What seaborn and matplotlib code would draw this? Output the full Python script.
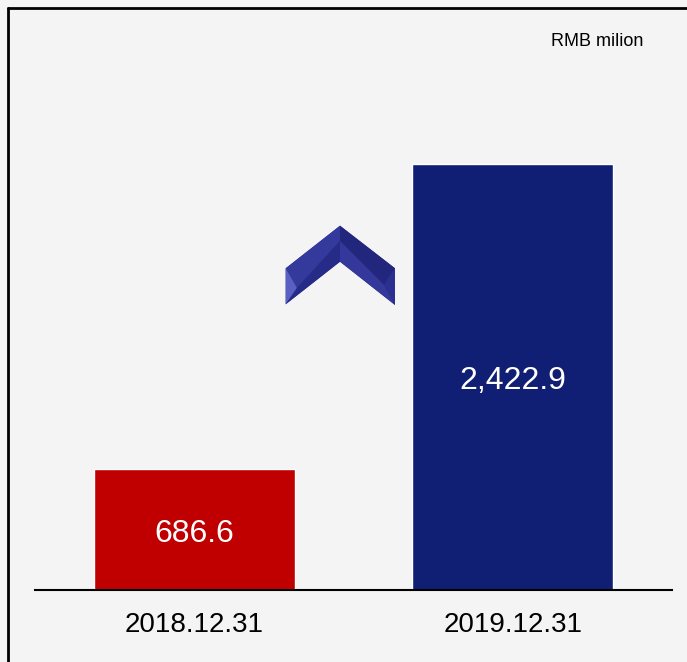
import matplotlib
matplotlib.use("Agg")
import matplotlib.pyplot as plt
from matplotlib.patches import Polygon
from matplotlib.lines import Line2D
import seaborn as sns
import pandas as pd

categories = ["2018.12.31", "2019.12.31"]
values = [686.6, 2422.9]
bar_colors = ["#c00000", "#101f74"]
unit_label = "RMB milion"

sns.set_theme(style="white")
plt.rcParams["font.family"] = ["Liberation Sans", "DejaVu Sans"]

W, H = 687, 662
bg = "#f4f4f4"
fig = plt.figure(figsize=(W / 100, H / 100), dpi=100, facecolor=bg)

def fx(x):
    return x / W

def fy(y):
    return 1 - y / H

# axes: x 35..672 px, baseline y=590, top y=130
ax = fig.add_axes([fx(35), fy(590), (672 - 35) / W, (590 - 130) / H])
ax.set_facecolor(bg)

df = pd.DataFrame({"cat": categories, "val": values})
sns.barplot(data=df, x="cat", y="val", hue="cat", palette=bar_colors,
            saturation=1, width=0.63, legend=False, ax=ax)

ax.set_xlim(-0.5, 1.5)
ax.set_ylim(0, 460 / 0.1758)
ax.set_xlabel("")
ax.set_ylabel("")
ax.set_yticks([])
for s in ["top", "right", "left"]:
    ax.spines[s].set_visible(False)
ax.spines["bottom"].set_color("black")
ax.spines["bottom"].set_linewidth(1.5)
ax.tick_params(axis="x", length=0, pad=15.5, labelsize=20, labelcolor="black")

for i, v in enumerate(values):
    ax.annotate(f"{v:,.1f}", xy=(i, v / 2), xytext=(0, -3),
                textcoords="offset points", ha="center", va="center",
                color="white", fontsize=23)

fig.text(fx(643), fy(41), unit_label, ha="right", va="center",
         fontsize=13, color="black")

# frame lines (top and left)
fig.add_artist(Line2D([fx(8), fx(W)], [fy(8), fy(8)], color="black",
                      lw=2, transform=fig.transFigure))
fig.add_artist(Line2D([fx(8), fx(8)], [fy(8), fy(H)], color="black",
                      lw=2, transform=fig.transFigure))

# decorative chevron (up arrow)
def poly(pts, color):
    p = Polygon([(fx(x), fy(y)) for x, y in pts], closed=True,
                facecolor=color, edgecolor="none", transform=fig.transFigure)
    fig.add_artist(p)

A = (285.7, 268.3); B = (340, 225.7); C = (395, 268.3)
D = (395, 305); E = (340, 261.7); F = (285.7, 304.3)
G = (297, 288); B2 = (340, 241); Hh = (384, 285)
poly([A, B, C, D, E, F], "#2a2f8c")
poly([A, B, B2, G], "#343a9c")
poly([A, F, G], "#5a60c2")
poly([G, B2, E, F], "#262b88")
poly([B, C, Hh, B2], "#22277d")
poly([B2, Hh, D, E], "#33389a")
poly([C, D, Hh], "#2b3090")

fig.savefig("out.png", dpi=100, facecolor=bg)
